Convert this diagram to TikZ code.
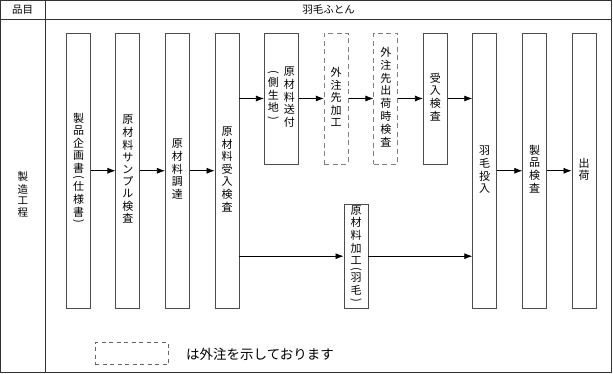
\documentclass[tikz,border=0pt]{standalone}
\usepackage{fontspec}
\setmainfont{Noto Sans CJK JP}
\usepackage{graphicx}
\usetikzlibrary{arrows.meta}

% vertical text: one character per row
\newcommand{\tate}[1]{{\renewcommand{\arraystretch}{1}%
  \begin{tabular}[t]{@{}c@{}}#1\end{tabular}}}
\newcommand{\kakkoL}{\rotatebox[origin=c]{-90}{(}}
\newcommand{\kakkoR}{\rotatebox[origin=c]{-90}{)}}

\begin{document}
\begin{tikzpicture}[x=1pt, y=-1pt,
    frame/.style={draw=black!80, line width=0.9pt},
    stepbox/.style={draw=black!70, line width=0.8pt, minimum width=24pt,
      inner sep=0pt, font=\fontsize{11}{11.75}\selectfont},
    tall/.style={stepbox, minimum height=275.5pt},
    short/.style={stepbox, minimum height=131pt},
    outside/.style={short, draw=black!50, dash pattern=on 5pt off 3.5pt},
    flow/.style={-{Latex[length=8pt, width=6pt]}, line width=0.7pt}]
        \useasboundingbox (0, 0) rectangle (613, 374);
        % table frame
        \draw[frame] (0.5, 0.5) rectangle (611.5, 372.5);
        \draw[frame] (0.5, 19.5) -- (611.5, 19.5);
        \draw[frame] (45.5, 0.5) -- (45.5, 372.5);
        \node[font=\fontsize{10.5}{12}\selectfont] (item) at (22.75, 10) {品目};
        \node[font=\fontsize{10.5}{12}\selectfont] (product) at (328.5, 10)
        {羽毛ふとん};
        \node[font=\fontsize{10.5}{11.5}\selectfont] (process-label) at (22.75, 196)
        {\tate{製\\造\\工\\程}};
        % steps
        \node[tall] (plan) at (78.5, 170.75)
        {\tate{製\\品\\企\\画\\書\\[-3pt]\kakkoL\\[-3pt]仕\\様\\書\\[-3pt]\kakkoR}};
        \node[tall] (sample) at (127.8, 170.75)
        {\tate{原\\材\\料\\サ\\ン\\プ\\ル\\検\\査}};
        \node[tall] (procure) at (177.3, 170.75) {\tate{原\\材\\料\\調\\達}};
        \node[tall] (receive) at (227, 170.75)
        {\tate{原\\材\\料\\受\\入\\検\\査}};
        \node[short, minimum width=34pt] (send) at (281.3, 98.5)
        {\tate{\kakkoL\\[-2pt]側\\生\\地\\[-2pt]\kakkoR}\hspace{5pt}%
          \tate{原\\材\\料\\送\\付}};
        \node[outside] (outproc) at (336.2, 98.5) {\tate{外\\注\\先\\加\\工}};
        \node[outside] (outcheck) at (385.8, 98.5)
        {\tate{外\\注\\先\\出\\荷\\時\\検\\査}};
        \node[short] (accept) at (435.3, 98.5) {\tate{受\\入\\検\\査}};
        \node[stepbox, minimum height=104.3pt] (feather) at (356, 256.2)
        {\tate{原\\材\\料\\加\\工\\[-3pt]\kakkoL\\[-3pt]羽\\毛\\[-3pt]\kakkoR}};
        \node[tall] (fill) at (484.7, 170.75) {\tate{羽\\毛\\投\\入}};
        \node[tall] (inspect) at (534.7, 170.75) {\tate{製\\品\\検\\査}};
        \node[tall] (ship) at (584, 170.75) {\tate{出\\荷}};
        % flow
        \draw[flow] (plan) -- (sample);
        \draw[flow] (sample) -- (procure);
        \draw[flow] (procure) -- (receive);
        \draw[flow] (receive.east |- send.west) -- (send.west);
        \draw[flow] (send) -- (outproc);
        \draw[flow] (outproc) -- (outcheck);
        \draw[flow] (outcheck) -- (accept);
        \draw[flow] (accept.east) -- (accept.east -| fill.west);
        \draw[flow] (receive.east |- feather.west) -- (feather.west);
        \draw[flow] (feather.east) -- (feather.east -| fill.west);
        \draw[flow] (fill) -- (inspect);
        \draw[flow] (inspect) -- (ship);
        % legend
        \node[draw=black!60, line width=0.8pt, dash pattern=on 4pt off 3.5pt,
        minimum width=73pt, minimum height=22pt, inner sep=0pt] (legend)
        at (131.6, 353.8) {};
        \node[anchor=west, inner sep=0pt, font=\fontsize{13.5}{13.5}\selectfont]
        (legend-text) at (186, 354) {は外注を示しております};
      \end{tikzpicture}
\end{document}
